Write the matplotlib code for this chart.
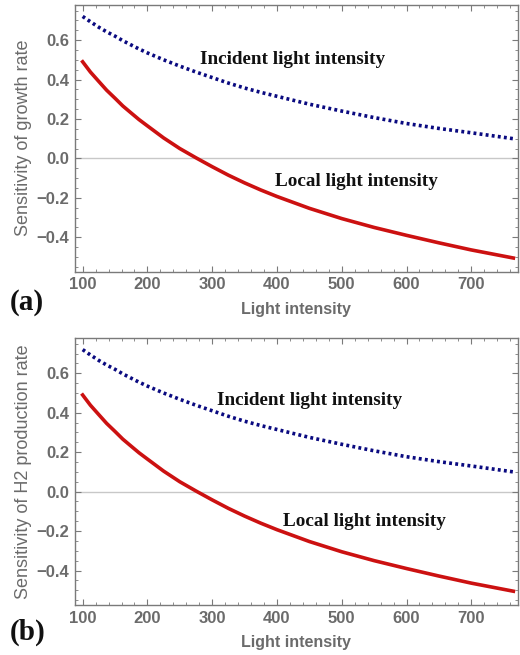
import matplotlib
matplotlib.use("Agg")
import matplotlib.pyplot as plt
from matplotlib.ticker import MultipleLocator

# valores
light = [100, 112, 125, 137, 150, 162, 175, 187, 200, 225, 250, 275, 300, 325, 350,
         375, 400, 450, 500, 550, 600, 650, 700, 765]
incident = [0.72, 0.693, 0.665, 0.642, 0.62, 0.597, 0.575, 0.555, 0.535, 0.50, 0.468,
            0.438, 0.41, 0.382, 0.357, 0.335, 0.315, 0.275, 0.24, 0.207, 0.177, 0.152,
            0.13, 0.10]
local = [0.49, 0.438, 0.39, 0.346, 0.305, 0.266, 0.23, 0.197, 0.165, 0.104, 0.05,
         0.003, -0.042, -0.085, -0.124, -0.16, -0.193, -0.253, -0.305, -0.35, -0.39,
         -0.428, -0.464, -0.505]

ylabels = ["Sensitivity of growth rate", "Sensitivity of H2 production rate"]
panel_tags = ["(a)", "(b)"]
# posiciones de las etiquetas de texto (x, y) para cada panel
inc_pos = [(424, 0.50), (450, 0.46)]
loc_pos = [(523, -0.117), (535, -0.153)]

gray = "#6b6b6b"
frame_gray = "#7a7a7a"

fig = plt.figure(figsize=(5.2, 6.55), dpi=100)
bottoms = [0.585, 0.0763]

for i in range(2):
    ax = fig.add_axes([0.144, bottoms[i], 0.852, 0.408])
    ax.axhline(0, color="#c8c8c8", lw=1.0, zorder=1)
    ax.plot(light, incident, color="#0a0a80", lw=2.6, ls=(0, (0.8, 0.9)), zorder=3)
    ax.plot(light, local, color="#cc1111", lw=2.6, zorder=3)

    ax.set_xlim(88, 772)
    ax.set_ylim(-0.575, 0.78)
    ax.xaxis.set_major_locator(MultipleLocator(100))
    ax.xaxis.set_minor_locator(MultipleLocator(20))
    ax.yaxis.set_minor_locator(MultipleLocator(0.05))
    ax.set_yticks([-0.4, -0.2, 0.0, 0.2, 0.4, 0.6])
    ax.set_yticklabels(["\u22120.4", "\u22120.2", "0.0", "0.2", "0.4", "0.6"])

    ax.tick_params(which="both", direction="in", top=True, right=True,
                   color=frame_gray, labelcolor=gray)
    ax.tick_params(which="major", length=4, width=0.8, labelsize=12, pad=4)
    ax.tick_params(which="minor", length=2, width=0.6)
    for lab in ax.get_xticklabels() + ax.get_yticklabels():
        lab.set_fontweight("bold")
        lab.set_family("Liberation Sans")
    for s in ax.spines.values():
        s.set_color(frame_gray)
        s.set_linewidth(1.0)

    ax.set_ylabel(ylabels[i], color=gray, fontsize=13, family="Liberation Sans", labelpad=3)
    ax.set_xlabel("Light intensity", color=gray, fontsize=11.5, family="Liberation Sans",
                  fontweight="bold", labelpad=7)

    ax.text(inc_pos[i][0], inc_pos[i][1], "Incident light intensity", ha="center", va="center",
            family="Liberation Serif", fontweight="bold", fontsize=13.8, color="#111111")
    ax.text(loc_pos[i][0], loc_pos[i][1], "Local light intensity", ha="center", va="center",
            family="Liberation Serif", fontweight="bold", fontsize=13.8, color="#111111")

    fig.text(0.019, (655 - [302, 632][i]) / 655, panel_tags[i], ha="left", va="center",
             family="Liberation Serif", fontweight="bold", fontsize=21, color="#111111")

fig.savefig("out.png", dpi=100)
